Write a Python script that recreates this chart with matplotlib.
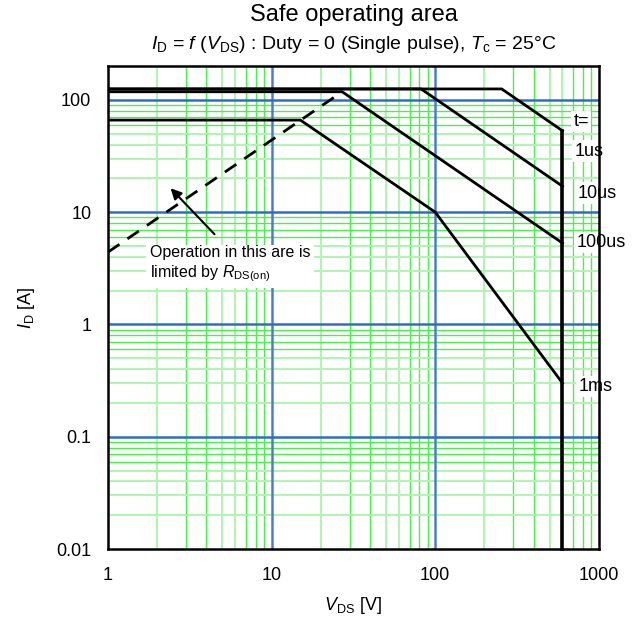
import numpy as np
import matplotlib.pyplot as plt

plt.rcParams['font.family'] = ['Liberation Sans', 'DejaVu Sans']
plt.rcParams['mathtext.fontset'] = 'custom'
plt.rcParams['mathtext.rm'] = 'Liberation Sans'
plt.rcParams['mathtext.it'] = 'Liberation Sans:italic'

# SOA curves (V_DS [V], I_D [A])
v_1us = [1, 255, 600]
i_1us = [125, 125, 53]
v_10us = [1, 82, 600]
i_10us = [125, 125, 17]
v_100us = [1, 27, 600]
i_100us = [118, 118, 5.3]
v_1ms = [1, 15, 100, 600]
i_1ms = [66, 66, 10, 0.3]
v_max = [600, 600]
i_max = [53, 0.01]
v_rds = [1, 27]
i_rds = [4.4, 118]

labels = ['t=', '1us', '10us', '100us', '1ms']
label_v = [700, 710, 740, 730, 750]
label_i = [64, 35, 14.8, 5.4, 0.28]

x_ticks = [1, 10, 100, 1000]
x_ticklabels = ['1', '10', '100', '1000']
y_ticks = [0.01, 0.1, 1, 10, 100]
y_ticklabels = ['0.01', '0.1', '1', '10', '100']

fig = plt.figure(figsize=(6.37, 6.33), dpi=100)
ax = fig.add_axes([0.1695, 0.1327, 0.7705, 0.763])
ax.set_xscale('log')
ax.set_yscale('log')
ax.set_xlim(1, 1000)
ax.set_ylim(0.01, 200)

# grid: pale/bright green minor lines, blue decades
pale = '#b0f5b0'
bright = '#4cf04c'
for dec in [1, 10, 100]:
    for m in range(2, 10):
        c = pale if m in (2, 5, 6) else bright
        ax.axvline(dec * m, color=c, lw=1.4 if c == pale else 1.0, zorder=1)
for dec in [0.01, 0.1, 1, 10, 100]:
    for m in range(2, 10):
        if dec * m > 200:
            break
        c = pale if m in (2, 3, 4, 5) else bright
        ax.axhline(dec * m, color=c, lw=1.4 if c == pale else 1.0, zorder=1)
for v in [10, 100]:
    ax.axvline(v, color='#4a7fc8', lw=1.8, zorder=2)
for i in [0.1, 1, 10, 100]:
    ax.axhline(i, color='#2e6fbf', lw=1.8, zorder=2)

kw = dict(color='black', lw=2.0, zorder=5, solid_joinstyle='miter')
ax.plot(v_1us, i_1us, **kw)
ax.plot(v_10us, i_10us, **kw)
ax.plot(v_100us, i_100us, **kw)
ax.plot(v_1ms, i_1ms, **kw)
ax.plot(v_max, i_max, color='black', lw=2.6, zorder=5, clip_on=False)
ax.plot(v_rds, i_rds, color='black', lw=2.0, ls=(0, (5, 3.5)), zorder=5)

for t, v, i in zip(labels, label_v, label_i):
    ax.text(v, i, t, fontsize=13, ha='left', va='center', zorder=6, clip_on=False,
            bbox=dict(facecolor='white', edgecolor='none', pad=1.5))

ax.annotate('', xy=(2.35, 17), xytext=(4.6, 6.1),
            arrowprops=dict(arrowstyle='-|>', color='black', lw=1.5,
                            mutation_scale=16), zorder=6)
ax.text(1.8, 3.4, 'Operation in this are is\nlimited by $\\mathit{R}_{\\mathrm{DS(on)}}$',
        fontsize=11.5, ha='left', va='center', linespacing=1.25, zorder=6,
        bbox=dict(facecolor='white', edgecolor='none', pad=3))

ax.set_xticks(x_ticks)
ax.set_xticklabels(x_ticklabels)
ax.set_yticks(y_ticks)
ax.set_yticklabels(y_ticklabels)
ax.minorticks_off()
ax.tick_params(length=0, labelsize=13)
ax.tick_params(axis='x', pad=13)
ax.tick_params(axis='y', pad=12)
for s in ax.spines.values():
    s.set_linewidth(1.8)
    s.set_zorder(7)

ax.set_xlabel('$\\mathit{V}_{\\mathrm{DS}}$ [V]', fontsize=13, labelpad=8)
ax.set_ylabel('$\\mathit{I}_{\\mathrm{D}}$ [A]', fontsize=13, labelpad=14)

fig.text(0.555, 0.977, 'Safe operating area', fontsize=17, ha='center', va='center')
fig.text(0.555, 0.929,
         '$\\mathit{I}_{\\mathrm{D}}$ = $\\mathit{f}$ ($\\mathit{V}_{\\mathrm{DS}}$) : Duty = 0 '
         '(Single pulse), $\\mathit{T}_{\\mathrm{c}}$ = 25°C',
         fontsize=14, ha='center', va='center')

fig.savefig('out.png', dpi=100)
